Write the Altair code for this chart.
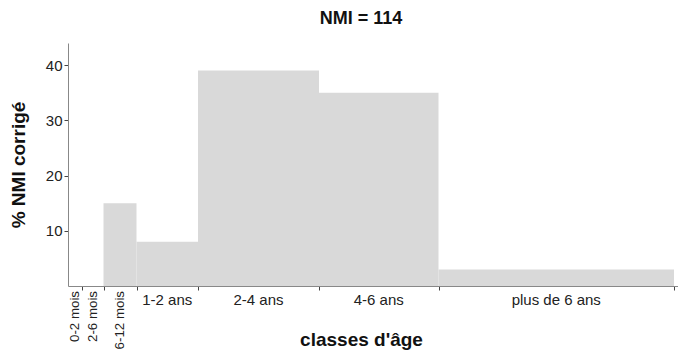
import altair as alt
import pandas as pd

# Age classes and corrected NMI percentage
classes = ["0-2 mois", "2-6 mois", "6-12 mois", "1-2 ans", "2-4 ans", "4-6 ans", "plus de 6 ans"]
valeurs = [0, 0, 15, 8, 39, 35, 3]
# class boundaries on the chart's (non-linear) age scale
bornes_debut = [0, 13.7, 35.5, 68.5, 130, 251, 370.5]
bornes_fin = [13.7, 35.5, 68.5, 130, 251, 370.5, 606]
etiquette_verticale = [True, True, True, False, False, False, False]
titre = "NMI = 114"

df = pd.DataFrame({
    "classe": classes,
    "val": valeurs,
    "x0": bornes_debut,
    "x1": bornes_fin,
    "vert": etiquette_verticale,
})
df["mid"] = (df["x0"] + df["x1"]) / 2
df["zero"] = 0

FONT = "Liberation Sans"
W, H = 610, 243

xscale = alt.Scale(domain=[0, 610], nice=False, zero=False)
yscale = alt.Scale(domain=[0, 44], nice=False)

bars = alt.Chart(df).mark_rect(color="#d9d9d9").encode(
    x=alt.X("x0:Q", scale=xscale, axis=alt.Axis(
        values=bornes_fin, labels=False, grid=False, tickSize=4,
        tickColor="#444", domainColor="#888",
        title="classes d'âge", titleFont=FONT, titleFontSize=19,
        titleFontWeight="bold", titleColor="#111",
        titleX=293, titleY=59, titleBaseline="alphabetic")),
    x2="x1:Q",
    y=alt.Y("val:Q", scale=yscale, axis=alt.Axis(
        values=[10, 20, 30, 40], grid=False, tickSize=4, tickColor="#444",
        domainColor="#888", labelFont=FONT, labelFontSize=15, labelColor="#222",
        labelPadding=2, title="% NMI corrigé", titleFont=FONT, titleFontSize=19,
        titleFontWeight="bold", titleColor="#111", titlePadding=17)),
    y2="zero:Q",
)

lab_h = alt.Chart(df).transform_filter("!datum.vert").mark_text(
    font=FONT, fontSize=15, color="#222", baseline="top", align="center"
).encode(
    x=alt.X("mid:Q", scale=xscale),
    y=alt.value(250),
    text="classe:N",
)

lab_v = alt.Chart(df).transform_filter("datum.vert").mark_text(
    font=FONT, fontSize=13.3, color="#222", baseline="middle", align="right", angle=270
).encode(
    x=alt.X("mid:Q", scale=xscale),
    y=alt.value(248),
    text="classe:N",
)

title_mark = alt.Chart(pd.DataFrame({"t": [titre]})).mark_text(
    font=FONT, fontSize=18, fontWeight="bold", color="#111",
    align="center", baseline="alphabetic"
).encode(
    x=alt.value(293),
    y=alt.value(-19),
    text="t:N",
)

chart = alt.layer(bars, lab_h, lab_v, title_mark).properties(
    width=W, height=H,
    autosize=alt.AutoSizeParams(type="none"),
    padding={"left": 60, "top": 35, "right": 0, "bottom": 64},
).configure_view(stroke=None)

chart.save("out.html", embed_options={"renderer": "svg", "actions": False})
